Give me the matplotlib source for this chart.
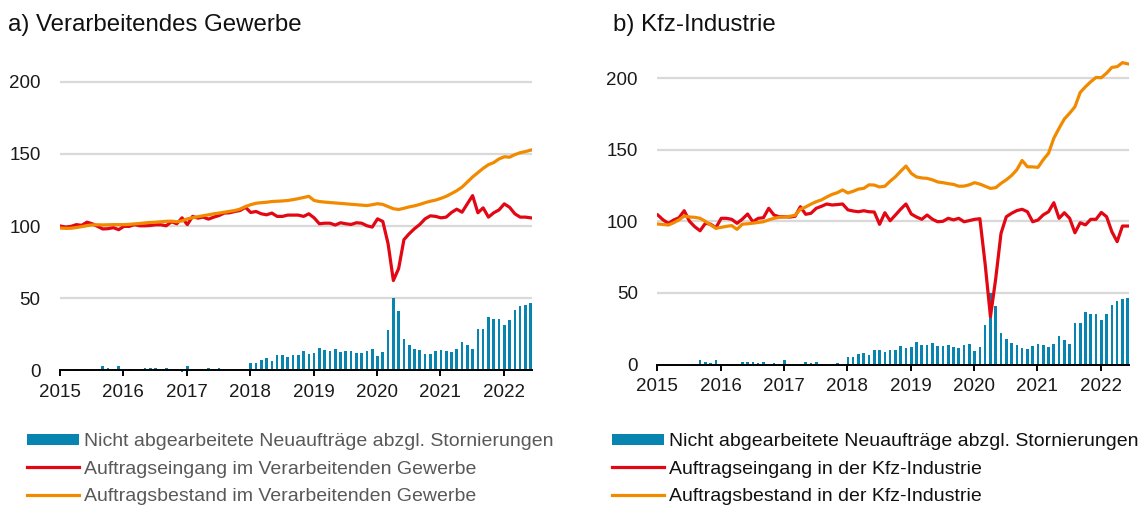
import numpy as np
import pandas as pd
import matplotlib
matplotlib.use('Agg')
import matplotlib.pyplot as plt
from matplotlib.patches import Patch
from matplotlib.lines import Line2D

plt.rcParams['font.family'] = ['Liberation Sans', 'DejaVu Sans']

# monthly data, Jan 2015 - Jun 2022
months = pd.date_range('2015-01-01', periods=90, freq='MS')

# Nicht abgearbeitete Neuauftraege abzgl. Stornierungen (identical in both panels)
neu_netto = [
    0.2, -0.6, 0.1, -0.5, 0.1, -0.6, -0.5, 0.7, 2.8, 1.9, 0.9, 2.8,
    0.3, 0.7, 0.2, 0.5, 1.4, 1.9, 1.4, 1.2, 1.9, 0.2, 0.9, -1.2,
    3.3, -0.7, 0.5, 0.5, 1.9, 1.2, 1.9, 0.1, 0.0, 0.2, 1.2, 0.0,
    4.9, 4.9, 7.2, 8.3, 6.7, 10.4, 10.4, 9.0, 10.4, 10.4, 13.2, 11.3,
    12.3, 15.7, 13.9, 13.7, 15.0, 13.0, 13.2, 13.7, 12.0, 11.8, 13.7, 14.6,
    9.7, 12.5, 27.8, 50.0, 41.0, 22.0, 17.8, 14.8, 13.9, 11.6, 11.1, 13.2,
    14.1, 13.7, 12.5, 14.6, 19.9, 17.4, 14.6, 28.9, 28.9, 36.8, 35.6, 35.4,
    31.3, 35.2, 41.9, 44.7, 45.4, 46.5,
]

# a) Verarbeitendes Gewerbe
vg_eingang = [
    100.0, 99.3, 99.8, 101.0, 100.5, 102.7, 101.6, 99.8, 98.0, 98.2, 98.9, 97.5,
    99.8, 99.8, 101.0, 100.2, 100.2, 100.4, 100.9, 100.9, 100.2, 103.0, 101.6, 105.7,
    101.0, 106.7, 105.5, 106.2, 104.8, 106.2, 107.3, 109.0, 109.2, 110.1, 110.8, 113.0,
    109.4, 110.1, 108.5, 107.8, 109.0, 106.7, 106.7, 107.6, 107.6, 107.6, 106.7, 108.5,
    105.7, 101.6, 102.0, 102.0, 100.7, 102.3, 101.6, 101.1, 102.3, 102.0, 100.2, 99.3,
    105.0, 103.2, 87.8, 62.3, 70.6, 90.6, 94.7, 98.2, 101.1, 105.0, 107.1, 106.7,
    105.7, 106.2, 109.4, 111.7, 109.6, 115.4, 121.1, 109.2, 112.6, 106.2, 109.2, 111.2,
    115.4, 113.0, 108.5, 106.2, 106.2, 105.7,
]
vg_bestand = [
    98.6, 98.4, 98.5, 99.0, 99.6, 100.3, 100.8, 100.9, 100.8, 100.9, 101.0, 101.0,
    101.0, 101.2, 101.5, 101.8, 102.2, 102.5, 102.7, 103.0, 103.3, 103.4, 103.0, 103.6,
    105.0, 105.8, 106.5, 107.2, 107.8, 108.5, 109.0, 109.6, 110.2, 110.8, 111.8, 113.5,
    114.8, 115.8, 116.2, 116.5, 117.0, 117.2, 117.4, 117.7, 118.3, 119.0, 119.8, 120.6,
    117.7, 117.0, 116.6, 116.3, 116.0, 115.7, 115.4, 115.1, 114.8, 114.5, 114.2, 114.8,
    115.5, 115.0, 113.5, 112.0, 111.5, 112.3, 113.3, 114.0, 115.0, 116.2, 117.2, 118.0,
    119.2, 120.6, 122.5, 124.5, 127.0, 130.5, 134.0, 137.0, 140.0, 142.5, 144.0, 146.5,
    148.0, 147.7, 149.5, 150.8, 151.6, 152.6,
]

# b) Kfz-Industrie
kfz_eingang = [
    104.4, 101.0, 98.6, 100.9, 102.5, 107.4, 100.0, 96.2, 93.4, 98.6, 98.0, 95.5,
    102.1, 102.1, 101.4, 98.6, 101.5, 105.1, 99.7, 102.1, 102.5, 109.1, 104.4, 103.2,
    103.2, 103.0, 103.5, 110.2, 104.9, 105.6, 109.1, 110.5, 112.1, 111.4, 111.7, 112.1,
    108.0, 107.2, 106.7, 107.4, 106.7, 106.5, 97.9, 106.0, 100.4, 104.4, 108.5, 112.1,
    105.1, 103.0, 101.4, 104.4, 101.5, 99.7, 100.0, 102.1, 101.0, 102.1, 99.7, 100.5,
    101.4, 101.8, 70.0, 33.4, 60.0, 91.6, 103.2, 105.6, 107.5, 108.4, 106.7, 99.7,
    100.9, 104.5, 106.7, 113.0, 102.1, 106.0, 102.1, 92.0, 99.0, 97.5, 101.4, 101.4,
    106.2, 103.2, 92.7, 85.8, 96.7, 96.7,
]
kfz_bestand = [
    98.1, 97.8, 97.4, 99.0, 101.0, 103.7, 103.0, 102.8, 102.1, 100.0, 97.5, 95.1,
    95.8, 96.5, 97.0, 94.4, 98.0, 98.3, 98.7, 99.2, 99.7, 101.0, 102.1, 102.8,
    103.0, 103.5, 104.2, 108.5, 110.0, 112.0, 113.7, 115.0, 117.0, 118.8, 120.0, 121.9,
    119.8, 121.0, 122.5, 123.0, 125.5, 125.3, 124.0, 124.5, 128.0, 131.1, 135.0, 138.6,
    133.5, 131.0, 130.3, 130.0, 129.0, 127.5, 127.0, 126.3, 125.8, 124.5, 124.6, 125.5,
    127.0, 126.0, 124.5, 123.0, 123.5, 126.5, 129.0, 132.0, 136.0, 142.5, 138.1, 138.0,
    137.7, 143.0, 147.5, 158.0, 165.0, 171.5, 175.5, 180.0, 190.0, 194.0, 197.5, 200.5,
    200.3, 203.5, 207.5, 208.0, 210.8, 210.0,
]

year_ticks = [2015, 2016, 2017, 2018, 2019, 2020, 2021, 2022]
y_ticks = [0, 50, 100, 150, 200]

titles = ['a) Verarbeitendes Gewerbe', 'b) Kfz-Industrie']
labels_a = ['Nicht abgearbeitete Neuaufträge abzgl. Stornierungen',
            'Auftragseingang im Verarbeitenden Gewerbe',
            'Auftragsbestand im Verarbeitenden Gewerbe']
labels_b = ['Nicht abgearbeitete Neuaufträge abzgl. Stornierungen',
            'Auftragseingang in der Kfz-Industrie',
            'Auftragsbestand in der Kfz-Industrie']

BLUE = '#0884b0'
RED = '#e30613'
ORANGE = '#f28a00'
GRID = '#d9d9d9'

x = months.year + (months.month - 1 + 0.1) / 12

W, H = 1143, 505
fig = plt.figure(figsize=(W / 100, H / 100), dpi=100)


def panel(rect, bars, eingang, bestand):
    ax = fig.add_axes(rect)
    ax.bar(x, bars, width=0.5 / 12, color=BLUE, zorder=2)
    ax.plot(x, eingang, color=RED, lw=2.3, zorder=3, solid_joinstyle='round')
    ax.plot(x, bestand, color=ORANGE, lw=2.3, zorder=4, solid_joinstyle='round')
    ax.set_xlim(2015, 2015 + 89.4 / 12)
    ax.set_ylim(-3, 220)
    for v in y_ticks[1:]:
        ax.axhline(v, color=GRID, lw=1.6, zorder=1)
    for s in ['left', 'right', 'top']:
        ax.spines[s].set_visible(False)
    ax.spines['bottom'].set_position(('data', 0))
    ax.spines['bottom'].set_linewidth(1.4)
    ax.spines['bottom'].set_zorder(5)
    ax.set_xticks(year_ticks)
    ax.set_xticklabels([str(y) for y in year_ticks])
    ax.set_yticks(y_ticks)
    ax.tick_params(axis='y', length=0, pad=14, labelsize=13.5, labelcolor='#1a1a1a')
    ax.tick_params(axis='x', direction='out', length=4.5, width=1.4, pad=5,
                   labelsize=13.5, labelcolor='#1a1a1a')
    ax.patch.set_alpha(0)
    return ax


ax_a = panel([60 / W, 1 - 374.8 / H, 472.3 / W, 322 / H], neu_netto, vg_eingang, vg_bestand)
ax_b = panel([657.3 / W, 1 - 368.8 / H, 472 / W, 319.3 / H], neu_netto, kfz_eingang, kfz_bestand)

fig.text(8 / W, 1 - 31.5 / H, titles[0], fontsize=17.3, va='baseline', color='#111111')
fig.text(613 / W, 1 - 31.5 / H, titles[1], fontsize=17.3, va='baseline', color='#111111')


def legend(x0, labels, tcolor):
    handles = [Patch(facecolor=BLUE, edgecolor='none'),
               Line2D([], [], color=RED, lw=2.3),
               Line2D([], [], color=ORANGE, lw=2.3)]
    fig.legend(handles, labels, loc='upper left', bbox_to_anchor=(x0 / W, 1 - 433.5 / H),
               frameon=False, fontsize=14.0, handlelength=2.65, handleheight=0.5,
               handletextpad=0.3, labelspacing=0.52, borderpad=0, borderaxespad=0,
               labelcolor=tcolor)


legend(27, labels_a, '#595959')
legend(612, labels_b, '#111111')

fig.savefig('out.png', dpi=100)
